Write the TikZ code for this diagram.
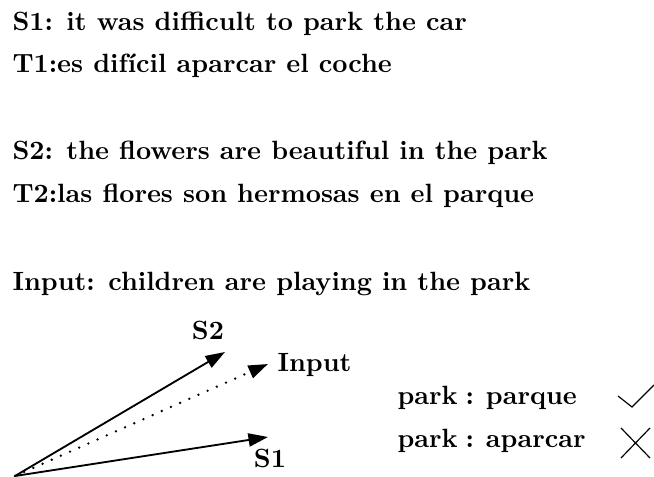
\documentclass[tikz,border=0pt]{standalone}
\usetikzlibrary{arrows.meta}
\begin{document}
\begin{tikzpicture}[x=0.3788pt,y=-0.3788pt,
  txt/.style={anchor=base west,inner sep=0pt,font=\bfseries},
  lbl/.style={anchor=base,inner sep=0pt,font=\bfseries},
  vec/.style={line width=0.7pt,-{Triangle[length=7.4pt,width=5pt]}},
  dots/.style={line width=1pt,line cap=round,dash pattern=on 0pt off 3.8pt},
  tickline/.style={line width=0.45pt}]
\useasboundingbox (0,0) rectangle (654,477);
\node[txt] (s1) at (12,31) {S1: it was difficult to park the car};
\node[txt] (t1) at (12,73) {T1:es difícil aparcar el coche};
\node[txt] (s2) at (12,160) {S2: the flowers are beautiful in the park};
\node[txt] (t2) at (12,203) {T2:las flores son hermosas en el parque};
\node[txt] (in) at (12,291) {Input: children are playing in the park};
\coordinate (o) at (15,476);
\coordinate (tS2) at (225,352);
\coordinate (tIn) at (268,364);
\coordinate (tS1) at (268,437);
\draw[vec] (o) -- (tS2);
\draw[vec,dots] (o) -- (tIn);
\draw[vec] (o) -- (tS1);
\node[lbl] (lS2) at (208,340) {S2};
\node[txt] (lIn) at (277,372) {Input};
\node[lbl] (lS1) at (270,468) {S1};
\node[txt] (p1) at (397,405) {park\hskip0.3em:\hskip0.45em parque};
\node[txt] (p2) at (397,448) {park\hskip0.3em:\hskip0.45em aparcar};
\draw[tickline] (618,396) -- (632,407) -- (654,385);
\draw[tickline] (621,428) -- (650,458) (621,458) -- (650,428);
\end{tikzpicture}
\end{document}
